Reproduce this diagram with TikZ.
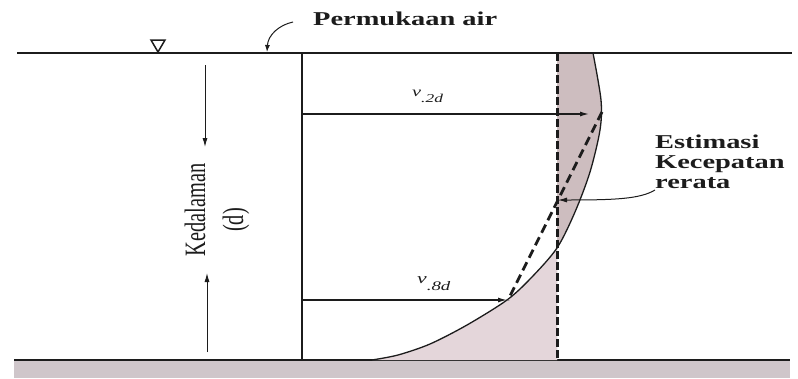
\documentclass[tikz,border=0pt]{standalone}
\usepackage{fontspec}
\setmainfont{Liberation Serif}
\usetikzlibrary{arrows.meta}
\definecolor{ink}{HTML}{1C1C1C}
\definecolor{shadeA}{HTML}{CDBDBF}
\definecolor{shadeB}{HTML}{E4D6DA}
\definecolor{bedc}{HTML}{CFC6CA}
\tikzset{
  thinline/.style={ink, line width=1.2pt},
  arr/.style={ink, line width=1.2pt, -{Latex[length=9pt,width=5pt]}},
  dasheddark/.style={ink, line width=3pt, dash pattern=on 8pt off 3pt},
  lbl/.style={anchor=base west, inner sep=0pt, text=ink},
}
\begin{document}
\begin{tikzpicture}[x=1pt,y=-1pt]
\useasboundingbox (0,0) rectangle (798,378);
\fill[white] (0,0) rectangle (798,378);

% river bed
\fill[bedc] (14,361) rectangle (790,378);
\coordinate (b1) at (14,360);
\coordinate (b2) at (790,360);
\draw[ink, line width=2pt] (b1) -- (b2);

% shaded velocity profile
\begin{scope}
\clip (557,40) rectangle (630,370);
\fill[shadeA] plot[smooth] coordinates {(593,53) (601,100) (600,130) (590,172) (575,212) (557,248) (531,278) (507,300) (467,325) (430,344) (398,355) (372,360)} -- (557,360) -- (557,53) -- cycle;
\end{scope}
\begin{scope}
\clip (360,40) rectangle (557,370);
\fill[shadeB] plot[smooth] coordinates {(593,53) (601,100) (600,130) (590,172) (575,212) (557,248) (531,278) (507,300) (467,325) (430,344) (398,355) (372,360)} -- (557,360) -- (557,53) -- cycle;
\end{scope}
\draw[ink, line width=1.3pt] plot[smooth] coordinates {(593,53) (601,100) (600,130) (590,172) (575,212) (557,248) (531,278) (507,300) (467,325) (430,344) (398,355) (372,360)};

% water surface
\coordinate (s1) at (17,53);
\coordinate (s2) at (792,53);
\draw[ink, line width=1.8pt] (s1) -- (s2);
\draw[ink, line width=1.5pt, line join=miter] (151,40) -- (165,40) -- (158,52) -- cycle;

% surface label and pointer
\node[lbl, font=\bfseries\fontsize{19.6}{20}\selectfont] (perm) at (313,25) {\scalebox{1.45}[1]{Permukaan air}};
\coordinate (pa1) at (293,22);
\coordinate (pa2) at (267,52);
\draw[ink, line width=1pt, -{Latex[length=7pt,width=5pt]}] (pa1) .. controls (279,25) and (268,35) .. (pa2);

% vertical reference line
\coordinate (r1) at (302,53);
\coordinate (r2) at (302,360);
\draw[thinline] (r1) -- (r2);

% velocity arrows
\coordinate (v2s) at (302,114);
\coordinate (v2e) at (589,114);
\draw[arr] (v2s) -- (v2e);
\coordinate (v8s) at (302,300);
\coordinate (v8e) at (507,300);
\draw[arr] (v8s) -- (v8e);
\node[lbl] (v2) at (412,96) {\scalebox{1.45}[1]{\fontsize{14}{14}\selectfont\itshape v\raisebox{-6pt}{\fontsize{12}{12}\selectfont .2d}}};
\node[lbl] (v8) at (417,283) {\scalebox{1.45}[1]{\fontsize{15}{15}\selectfont\itshape v\raisebox{-7pt}{\fontsize{13}{13}\selectfont .8d}}};

% mean velocity dashed lines
\coordinate (m1) at (557,53);
\coordinate (m2) at (557,360);
\draw[dasheddark] (m1) -- (m2);
\coordinate (e1) at (602,112);
\coordinate (e2) at (508,300);
\draw[ink, line width=2.8pt, dash pattern=on 9pt off 5pt] (e1) -- (e2);

% depth arrows and label
\coordinate (da1) at (205,65);
\coordinate (da2) at (205,147);
\draw[ink, line width=1pt, -{Latex[length=9pt,width=5pt]}] (da1) -- (da2);
\coordinate (ua1) at (207,352);
\coordinate (ua2) at (207,273);
\draw[ink, line width=1pt, -{Latex[length=9pt,width=5pt]}] (ua1) -- (ua2);
\node[inner sep=0pt, text=ink, font=\fontsize{20.4}{22}\selectfont] (ked) at (195,210) {\scalebox{1.45}[1]{\rotatebox{90}{Kedalaman}}};
\node[inner sep=0pt, text=ink, font=\fontsize{20.4}{22}\selectfont] (dd) at (236,220) {\scalebox{1.45}[1]{\rotatebox{90}{(d)}}};

% estimate label
\node[lbl, font=\bfseries\fontsize{19.6}{20}\selectfont] (est1) at (655,148) {\scalebox{1.45}[1]{Estimasi}};
\node[lbl, font=\bfseries\fontsize{19.6}{20}\selectfont] (est2) at (655,168) {\scalebox{1.45}[1]{Kecepatan}};
\node[lbl, font=\bfseries\fontsize{19.6}{20}\selectfont] (est3) at (655,188) {\scalebox{1.45}[1]{rerata}};
\coordinate (rp1) at (655,190);
\coordinate (rp2) at (558,200);
\draw[ink, line width=1pt, -{Latex[length=9pt,width=5pt]}] (rp1) .. controls (640,199) and (615,200) .. (rp2);
\end{tikzpicture}
\end{document}
